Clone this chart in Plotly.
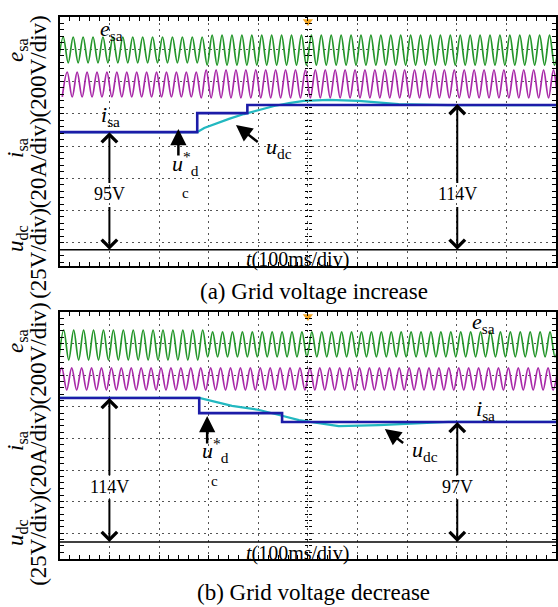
import plotly.graph_objects as go

W, H = 558, 607
SERIF = "Liberation Serif"

# ---------------- data ----------------
# time in ms (100 ms/div), vertical values in screen divisions (0 = bottom of 8-div screen)
HALF_CYCLE_MS = 10          # 50 Hz grid: peak / trough every 10 ms
TRIGGER_MS = 500

# (a) grid voltage increase
a_esa_first_peak_ms = 7
a_esa_peaks   = [7.38] * 15 + [7.44] * 36
a_esa_troughs = [6.58] * 15 + [6.51] * 36
a_isa_first_peak_ms = 15
a_isa_peaks   = [6.29] * 14 + [6.36] * 37
a_isa_troughs = [5.52] * 14 + [5.49] * 37
a_ref_t = [0, 277, 378, 1000]
a_ref_v = [4.43, 5.02, 5.27, 5.27]
a_udc_t = [0, 277, 291, 311, 341, 371, 402, 432, 462, 492, 542, 602, 683, 783, 1000]
a_udc_v = [4.43, 4.43, 4.56, 4.68, 4.84, 4.99, 5.12, 5.24, 5.33, 5.40, 5.43, 5.40, 5.30, 5.27, 5.27]
a_zero = 0.78
a_meas_t = [100, 801]
a_meas_top = [4.43, 5.30]
a_meas_label = ["95V", "114V"]

# (b) grid voltage decrease
b_esa_first_peak_ms = 8
b_esa_peaks   = [7.43] * 15 + [7.37] * 36
b_esa_troughs = [6.48] * 15 + [6.58] * 36
b_isa_first_peak_ms = 4
b_isa_peaks   = [6.23] * 51
b_isa_troughs = [5.53] * 51
b_ref_t = [0, 281, 448, 1000]
b_ref_v = [5.28, 4.80, 4.52, 4.52]
b_udc_t = [0, 281, 347, 402, 442, 482, 562, 643, 783, 1000]
b_udc_v = [5.28, 5.28, 5.03, 4.90, 4.74, 4.58, 4.39, 4.42, 4.52, 4.52]
b_zero = 0.72
b_meas_t = [100, 801]
b_meas_top = [5.28, 4.52]
b_meas_label = ["114V", "97V"]

# ---------------- layout geometry ----------------
X0 = 60 / W
A_DOM = [1 - 266 / H, 1 - 17 / H]
B_DOM = [1 - 559 / H, 1 - 312 / H]
A_YR = [8 - 249 / 32.25, 8]
B_YR = [8 - 247 / 31.6, 8]


def wave(first_peak, peaks, troughs):
    xs, ys = [], []
    for k in range(len(peaks)):
        xs += [first_peak - HALF_CYCLE_MS + 2 * HALF_CYCLE_MS * k, first_peak + 2 * HALF_CYCLE_MS * k]
        ys += [troughs[k], peaks[k]]
    return xs, ys


fig = go.Figure()


def add_panel(xa, ya, esa, isa, udc, ref, zero):
    x, y = wave(*esa)
    fig.add_trace(go.Scatter(x=x, y=y, mode="lines", line=dict(color="#24962a", width=1.7, shape="spline"),
                             xaxis=xa, yaxis=ya, showlegend=False, hoverinfo="skip"))
    x, y = wave(*isa)
    fig.add_trace(go.Scatter(x=x, y=y, mode="lines", line=dict(color="#a82aa8", width=1.7, shape="spline"),
                             xaxis=xa, yaxis=ya, showlegend=False, hoverinfo="skip"))
    fig.add_trace(go.Scatter(x=udc[0], y=udc[1], mode="lines", line=dict(color="#22b8c0", width=2.2),
                             xaxis=xa, yaxis=ya, showlegend=False, hoverinfo="skip"))
    fig.add_trace(go.Scatter(x=ref[0], y=ref[1], mode="lines", line=dict(color="#1c1ca8", width=2.6, shape="hv"),
                             xaxis=xa, yaxis=ya, showlegend=False, hoverinfo="skip"))
    fig.add_trace(go.Scatter(x=[0, 1000], y=[zero, zero], mode="lines", line=dict(color="black", width=1.5),
                             xaxis=xa, yaxis=ya, showlegend=False, hoverinfo="skip"))
    fig.add_trace(go.Scatter(x=[TRIGGER_MS], y=[7.86], mode="markers",
                             marker=dict(symbol="triangle-down", size=9, color="#f5a623"),
                             xaxis=xa, yaxis=ya, showlegend=False, hoverinfo="skip", cliponaxis=False))


add_panel("x", "y", (a_esa_first_peak_ms, a_esa_peaks, a_esa_troughs),
          (a_isa_first_peak_ms, a_isa_peaks, a_isa_troughs), (a_udc_t, a_udc_v), (a_ref_t, a_ref_v), a_zero)
add_panel("x2", "y2", (b_esa_first_peak_ms, b_esa_peaks, b_esa_troughs),
          (b_isa_first_peak_ms, b_isa_peaks, b_isa_troughs), (b_udc_t, b_udc_v), (b_ref_t, b_ref_v), b_zero)

# dummy traces for centre-line tick axes
for xa, ya in [("x", "y3"), ("x", "y4"), ("x2", "y5"), ("x2", "y6")]:
    fig.add_trace(go.Scatter(x=[None], y=[None], xaxis=xa, yaxis=ya, showlegend=False, hoverinfo="skip"))

common = dict(showgrid=True, gridcolor="#555", gridwidth=1, griddash="2px,4px", zeroline=False,
              showline=True, linecolor="black", linewidth=1.5, mirror="ticks", ticks="inside",
              ticklen=4, tickcolor="black", tickwidth=1, showticklabels=False, fixedrange=True)

xcommon = dict(common, range=[0, 1000], tick0=0, dtick=100,
               minor=dict(ticks="inside", ticklen=4, tickcolor="black", dtick=20, tick0=0, showgrid=False))


def ycommon(rng):
    return dict(common, range=rng, tick0=0, dtick=1,
                minor=dict(ticks="inside", ticklen=4, tickcolor="black", dtick=0.2, tick0=0, showgrid=False))


centre_pos = X0 + (1 - X0) * TRIGGER_MS / 1000


def centre_axis(over, rng, side_ticks):
    return dict(overlaying=over, anchor="free", position=centre_pos, range=rng, showgrid=False,
                zeroline=False, showline=False, ticks=side_ticks, ticklen=3, tickcolor="black",
                tick0=0, dtick=0.2, showticklabels=False, fixedrange=True)


fig.update_layout(
    width=W, height=H, margin=dict(l=0, r=0, t=0, b=0),
    paper_bgcolor="white", plot_bgcolor="white",
    xaxis=dict(xcommon, domain=[X0, 1], anchor="y"),
    yaxis=dict(ycommon(A_YR), domain=A_DOM, anchor="x"),
    xaxis2=dict(xcommon, domain=[X0, 1], anchor="y2"),
    yaxis2=dict(ycommon(B_YR), domain=B_DOM, anchor="x2"),
    yaxis3=centre_axis("y", A_YR, "outside"),
    yaxis4=centre_axis("y", A_YR, "inside"),
    yaxis5=centre_axis("y2", B_YR, "outside"),
    yaxis6=centre_axis("y2", B_YR, "inside"),
)

ann = []


def txt(xp, yp, text, size, angle=0, xanchor="center"):
    ann.append(dict(xref="paper", yref="paper", x=xp / W, y=1 - yp / H, text=text, showarrow=False,
                    font=dict(family=SERIF, size=size, color="black"), textangle=angle,
                    xanchor=xanchor, yanchor="middle"))


def arrow(xa, ya, x, y, ax, ay, head=2, width=2.5, size=1.3):
    ann.append(dict(xref=xa, yref=ya, axref=xa, ayref=ya, x=x, y=y, ax=ax, ay=ay, text="",
                    showarrow=True, arrowhead=head, arrowwidth=width, arrowsize=size, arrowcolor="black"))


def dim_arrow(xa, ya, t, top, bot, lab_y, label):
    ann.append(dict(xref=xa, yref=ya, axref=xa, ayref=ya, x=t, y=top, ax=t, ay=lab_y, text=label,
                    showarrow=True, arrowhead=4, arrowwidth=2, arrowsize=1.5, arrowcolor="black",
                    font=dict(family=SERIF, size=18, color="black")))
    ann.append(dict(xref=xa, yref=ya, axref=xa, ayref=ya, x=t, y=bot, ax=t, ay=lab_y, text="",
                    showarrow=True, arrowhead=4, arrowwidth=2, arrowsize=1.5, arrowcolor="black",
                    startstandoff=11))


# left axis captions
for (ye, yi, yu, yc) in [(50, 148, 238, 157), (341, 441, 532, 444)]:
    txt(17, ye, "<i>e</i><sub>sa</sub>", 23, -90)
    txt(17, yi, "<i>i</i><sub>sa</sub>", 23, -90)
    txt(17, yu, "<i>u</i><sub>dc</sub>", 23, -90)
    txt(38, yc, "(25V/div)(20A/div)(200V/div)", 23, -90)

# panel (a)
txt(112, 30, "<i>e</i><sub>sa</sub>", 22)
txt(111, 116, "<i>i</i><sub>sa</sub>", 22)
for t, top, lab in zip(a_meas_t, a_meas_top, a_meas_label):
    dim_arrow("x", "y", t, top, a_zero, 2.5, lab)
arrow("x", "y", 239, 4.53, 239, 3.66)
txt(171, 163, "<i>u</i><sup>*</sup><sub>d</sub>", 22, xanchor="left")
txt(186, 193, "c", 15)
arrow("x", "y", 355, 4.65, 402, 4.09)
txt(280, 148, "<i>u</i><sub>dc</sub>", 22)
txt(299, 259, "<i>t</i>(100ms/div)", 20)
txt(315, 291, "(a) Grid voltage increase", 23)

# panel (b)
txt(485, 323, "<i>e</i><sub>sa</sub>", 22)
txt(487, 410, "<i>i</i><sub>sa</sub>", 22)
for t, top, lab in zip(b_meas_t, b_meas_top, b_meas_label):
    dim_arrow("x2", "y2", t, top, b_zero, 2.47, lab)
arrow("x2", "y2", 297, 4.71, 297, 3.79)
txt(201, 450, "<i>u</i><sup>*</sup><sub>d</sub>", 22, xanchor="left")
txt(215, 481, "c", 15)
arrow("x2", "y2", 655, 4.30, 695, 3.82)
txt(427, 451, "<i>u</i><sub>dc</sub>", 22)
txt(299, 553, "<i>t</i>(100ms/div)", 20)
txt(315, 592, "(b) Grid voltage decrease", 23)

fig.update_layout(annotations=ann)
fig.write_html("out.html")
